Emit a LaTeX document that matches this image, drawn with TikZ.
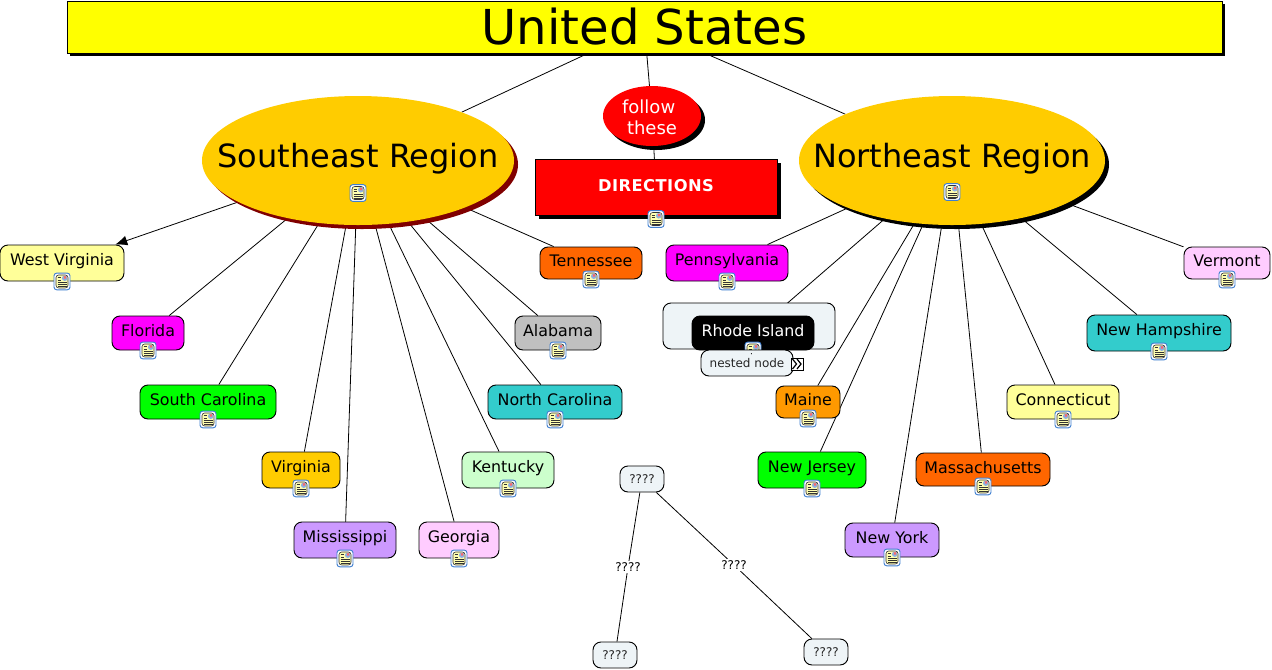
\documentclass[tikz,border=0pt]{standalone}
\usepackage{fontspec}
\setmainfont{DejaVu Sans}
\usetikzlibrary{shapes.geometric,shadows,backgrounds,arrows.meta}
\definecolor{titleyellow}{HTML}{FFFF00}
\definecolor{puremagenta}{HTML}{FF00FF}
\definecolor{purered}{HTML}{FF0000}
\definecolor{puregreen}{HTML}{00FF00}
\definecolor{goldfill}{HTML}{FFCC00}
\definecolor{paleyellow}{HTML}{FFFF99}
\definecolor{lilac}{HTML}{CC99FF}
\definecolor{palepink}{HTML}{FFCCFF}
\definecolor{palegreen}{HTML}{CCFFCC}
\definecolor{teal}{HTML}{33CCCC}
\definecolor{orange}{HTML}{FF6600}
\definecolor{amber}{HTML}{FF9900}
\definecolor{midgrey}{HTML}{C0C0C0}
\definecolor{paleblue}{HTML}{EEF4F7}
\definecolor{darkred}{HTML}{800000}
\definecolor{iconblue}{HTML}{3F7FD0}
\definecolor{iconpage}{HTML}{FFFFB0}
\newcommand{\regiontext}[1]{\makebox[0pt]{\raisebox{-5.6pt}{#1}}}
\tikzset{
  boxsize/.style 2 args={minimum width=#1*0.75pt,minimum height=#2*0.75pt,inner sep=0pt},
  concept/.style={draw,line width=0.7pt,rounded corners=6pt,font=\fontsize{11.9pt}{14pt}\selectfont,text height=9pt,text depth=4.5pt},
  tallbox/.style={text depth=5.5pt},
  small/.style={draw,line width=0.7pt,rounded corners=6pt,fill=paleblue,font=\fontsize{9pt}{11pt}\selectfont,text=black!85},
  region/.style={ellipse,draw=none,fill=goldfill,inner sep=0pt,font=\fontsize{24pt}{30pt}\selectfont,text height=0pt,text depth=0pt},
  link/.style={line width=0.6pt},
  docicon/.style={draw=iconblue,line width=0.7pt,fill=white,rounded corners=2pt,minimum width=12pt,minimum height=12.5pt,inner sep=0pt,
    path picture={
      \begin{scope}[shift={(path picture bounding box.center)}]
        \fill[iconpage] (-6,-6.5) rectangle (6,6.5);
        \draw[black!80,line width=0.45pt] (-6,-6.5) rectangle (6,6.5);
        \fill[iconblue!60] (0,-6) rectangle (5.5,-0.5);
        \fill[red!60] (2,-5) rectangle (4,-3);
        \foreach \ly in {-4,-1.5}{\draw[black!80,line width=0.4pt] (-4.5,\ly) -- (-1,\ly);}
        \foreach \ly in {1,3,5}{\draw[black!80,line width=0.4pt] (-4.5,\ly) -- (4.5,\ly);}
      \end{scope}}},
  morebox/.style={draw,line width=0.7pt,fill=white,minimum size=9pt,inner sep=0pt,
    path picture={
      \begin{scope}[shift={(path picture bounding box.center)}]
        \draw[line width=0.9pt] (-4.5,-5) -- (-0.5,0) -- (-4.5,5);
        \draw[line width=0.9pt] (0,-5) -- (4,0) -- (0,5);
      \end{scope}}}
}
\begin{document}
\begin{tikzpicture}[x=0.75pt,y=-0.75pt]
  \useasboundingbox (0,0) rectangle (1272,669);
  % heading
  \node[draw,fill=titleyellow,boxsize={1155}{52},font=\fontsize{36.1pt}{42pt}\selectfont,
    drop shadow={shadow xshift=2.5pt,shadow yshift=-2.5pt,opacity=1,fill=black}] (us) at (644.5,27) {United States};
  % regions
  \node[region,boxsize={312}{129},
    drop shadow={shadow xshift=3pt,shadow yshift=-3pt,opacity=1,fill=darkred}] (se) at (358,160.5) {\regiontext{Southeast Region}};
  \node[region,boxsize={306}{129},
    drop shadow={shadow xshift=3pt,shadow yshift=-3pt,opacity=1,fill=black}] (ne) at (952,160.5) {\regiontext{Northeast Region}};
  \node[ellipse,fill=purered,text=white,boxsize={98}{60},align=center,font=\fontsize{13.5pt}{16.5pt}\selectfont,
    drop shadow={shadow xshift=3pt,shadow yshift=-3pt,opacity=1,fill=black}] (follow) at (652,116) {\rule{0pt}{12pt}follow\hspace*{5pt}\\[-0.5pt]these};
  \node[draw,fill=purered,text=white,boxsize={242}{56},font=\bfseries\fontsize{12.2pt}{14pt}\selectfont\addfontfeature{LetterSpace=3},text height=9pt,text depth=2.5pt,
    drop shadow={shadow xshift=3pt,shadow yshift=-3pt,opacity=1,fill=black}] (dir) at (656,187) {DIRECTIONS};
  % southeast states
  \node[concept,tallbox,fill=paleyellow,boxsize={124}{36}] (wv) at (62,263) {West Virginia};
  \node[concept,fill=puremagenta,boxsize={72}{34}] (fl) at (148,333) {Florida};
  \node[concept,fill=puregreen,boxsize={136}{34}] (sc) at (208,402) {South Carolina};
  \node[concept,tallbox,fill=goldfill,boxsize={78}{36}] (va) at (301,470) {Virginia};
  \node[concept,tallbox,fill=lilac,boxsize={102}{36}] (ms) at (345,540) {Mississippi};
  \node[concept,tallbox,fill=palepink,boxsize={80}{36}] (ga) at (459,540) {Georgia};
  \node[concept,tallbox,fill=palegreen,boxsize={92}{36}] (ky) at (508,470) {Kentucky};
  \node[concept,fill=teal,boxsize={134}{34}] (nc) at (555,402) {North Carolina};
  \node[concept,fill=midgrey,boxsize={86}{34}] (al) at (558,333) {Alabama};
  \node[concept,fill=orange,boxsize={102}{32}] (tn) at (591,263) {Tennessee};
  % northeast states
  \node[concept,tallbox,fill=puremagenta,boxsize={122}{36}] (pa) at (727,263) {Pennsylvania};
  \node[draw,line width=0.7pt,rounded corners=6pt,fill=paleblue,boxsize={172}{46}] (rigroup) at (749,326) {};
  \node[concept,fill=black,text=white,boxsize={122}{34}] (ri) at (753,333) {Rhode Island};
  \node[concept,fill=amber,boxsize={64}{32}] (me) at (808,402) {Maine};
  \node[concept,tallbox,fill=puregreen,boxsize={108}{36}] (nj) at (812,470) {New Jersey};
  \node[concept,fill=lilac,boxsize={94}{34}] (ny) at (892,540) {New York};
  \node[concept,fill=orange,boxsize={134}{33},text depth=2.5pt] (ma) at (983,469.5) {Massachusetts};
  \node[concept,fill=paleyellow,boxsize={112}{34}] (ct) at (1063,402) {Connecticut};
  \node[concept,tallbox,fill=teal,boxsize={144}{36}] (nh) at (1159,333) {New Hampshire};
  \node[concept,fill=palepink,boxsize={86}{32}] (vt) at (1227,263) {Vermont};
  % unnamed concepts
  \node[small,boxsize={44}{26}] (qtop) at (642,479) {????};
  \node[small,boxsize={44}{26}] (qleft) at (615,655) {????};
  \node[small,boxsize={44}{26}] (qright) at (826,652) {????};
  \node[fill=white,inner sep=1pt,font=\fontsize{9pt}{11pt}\selectfont] (lleft) at (628,567) {????};
  \node[fill=white,inner sep=1pt,font=\fontsize{9pt}{11pt}\selectfont] (lright) at (734,565) {????};
  % connectors
  \begin{scope}[on background layer]
    \draw[link] (us) -- (se);
    \draw[link] (us) -- (follow);
    \draw[link] (us) -- (ne);
    \draw[link] (follow) -- (dir);
    \draw[link,-{Latex[length=9pt,width=7.5pt]}] (se) -- (wv);
    \draw[link] (se) -- (fl);
    \draw[link] (se) -- (sc);
    \draw[link] (se) -- (va);
    \draw[link] (se) -- (ms);
    \draw[link] (se) -- (ga);
    \draw[link] (se) -- (ky);
    \draw[link] (se) -- (nc);
    \draw[link] (se) -- (al);
    \draw[link] (se) -- (tn);
    \draw[link] (ne) -- (pa);
    \draw[link] (ne) -- (ri);
    \draw[link] (ne) -- (me);
    \draw[link] (ne) -- (nj);
    \draw[link] (ne) -- (ny);
    \draw[link] (ne) -- (ma);
    \draw[link] (ne) -- (ct);
    \draw[link] (ne) -- (nh);
    \draw[link] (ne) -- (vt);
    \draw[link] (qtop) -- (lleft);
    \draw[link] (lleft) -- (qleft);
    \draw[link] (qtop) -- (lright);
    \draw[link] (lright) -- (qright);
  \end{scope}
  % icons
  \node[docicon] (iconse) at (358,193) {};
  \node[docicon] (iconne) at (952,192) {};
  \node[docicon] (icondir) at (656,219) {};
  \node[docicon] (iconwv) at (wv.south) {};
  \node[docicon] (iconfl) at (fl.south) {};
  \node[docicon] (iconsc) at (sc.south) {};
  \node[docicon] (iconva) at (va.south) {};
  \node[docicon] (iconms) at (ms.south) {};
  \node[docicon] (iconga) at (ga.south) {};
  \node[docicon] (iconky) at (ky.south) {};
  \node[docicon] (iconnc) at (nc.south) {};
  \node[docicon] (iconal) at (al.south) {};
  \node[docicon] (icontn) at (tn.south) {};
  \node[docicon] (iconpa) at (pa.south) {};
  \node[docicon] (iconri) at (ri.south) {};
  \node[docicon] (iconme) at (me.south) {};
  \node[docicon] (iconnj) at (nj.south) {};
  \node[docicon] (iconny) at (ny.south) {};
  \node[docicon] (iconma) at (ma.south) {};
  \node[docicon] (iconct) at (ct.south) {};
  \node[docicon] (iconnh) at (nh.south) {};
  \node[docicon] (iconvt) at (vt.south) {};
  % nested node callout
  \node[small,boxsize={92}{26}] (nested) at (747,363) {nested node};
  \node[morebox] (more) at (797,364) {};
  \draw[link,shorten <=3pt,shorten >=8pt] (iconri.center) -- (nested.center);
\end{tikzpicture}
\end{document}
